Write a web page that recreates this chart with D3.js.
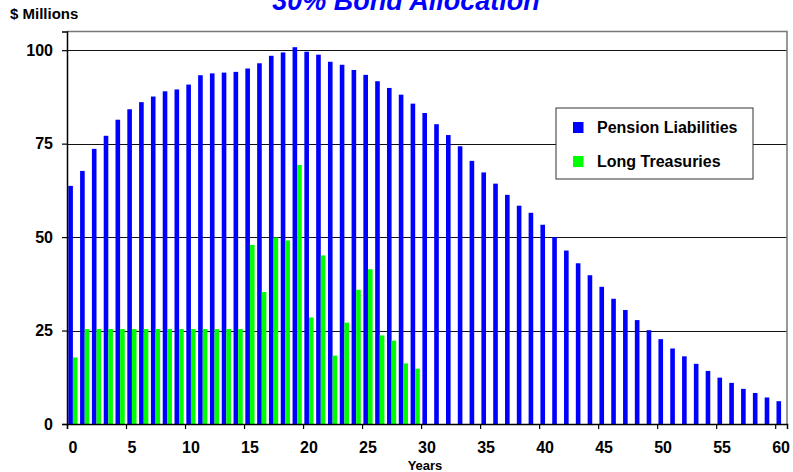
<!DOCTYPE html>
<html>
<head>
<meta charset="utf-8">
<script src="https://cdn.jsdelivr.net/npm/d3@7"></script>
<style>
  body { margin: 0; background: #fff; }
  svg { display: block; font-family: "Liberation Sans", Arial, sans-serif; }
</style>
</head>
<body>
<svg id="chart" width="793" height="472"></svg>
<script>
// years 0..60
const years = d3.range(0, 61);

const liabilities = [
    63.7, 67.7, 73.6, 77.1, 81.4, 84.2, 86.1, 87.6, 89.0, 89.5,
    90.8, 93.3, 93.8, 94.0, 94.2, 95.1, 96.5, 98.5, 99.4, 100.8,
    99.6, 98.8, 96.9, 96.1, 94.7, 93.4, 91.7, 89.9, 88.1, 85.7,
    83.2, 80.2, 77.3, 74.3, 70.4, 67.3, 64.3, 61.3, 58.4, 56.5,
    53.3, 50.0, 46.4, 43.0, 39.8, 36.7, 33.5, 30.5, 27.8, 25.1,
    22.7, 20.2, 18.1, 16.1, 14.2, 12.4, 11.0, 9.4, 8.3, 7.1,
    6.1
];

const treasuries = [
    17.8, 25.4, 25.4, 25.4, 25.4, 25.4, 25.4, 25.4, 25.4, 25.4,
    25.4, 25.4, 25.4, 25.4, 25.4, 47.9, 35.3, 49.9, 49.1, 69.3,
    28.5, 45.1, 18.3, 27.1, 35.9, 41.4, 23.7, 22.3, 16.2, 14.8
];

const seriesNames = ["Pension Liabilities", "Long Treasuries"];
const seriesColors = ["#0000FF", "#00FF00"];
const yTicks = [0, 25, 50, 75, 100];
const xTickLabels = d3.range(0, 61, 5);

const svg = d3.select("#chart");
const plotL = 67, plotR = 787, plotT = 31.5, plotB = 424;

const x = d3.scaleBand().domain(years).range([plotL, plotR]).padding(0);
const xEdge = d3.scaleLinear().domain([0, 61]).range([plotL, plotR]);
const sub = d3.scaleBand().domain(seriesNames).range([0, x.bandwidth()])
    .paddingInner(0).paddingOuter(0.28);
const y = d3.scaleLinear().domain([0, 105]).range([plotB, plotT]);

// gridlines
svg.append("g")
    .selectAll("line")
    .data(yTicks.filter(d => d > 0))
    .enter()
    .append("line")
    .attr("x1", plotL).attr("x2", plotR)
    .attr("y1", d => Math.round(y(d)) + 0.5)
    .attr("y2", d => Math.round(y(d)) + 0.5)
    .attr("stroke", "#111")
    .attr("stroke-width", 1.2);

// plot frame (top and right)
svg.append("path")
    .attr("d", `M${plotL},${plotT}H${plotR}V${plotB}`)
    .attr("fill", "none")
    .attr("stroke", "#777")
    .attr("stroke-width", 1.5);

// bars
const series = [liabilities, treasuries];
series.forEach((vals, si) => {
    svg.append("g")
        .selectAll("rect")
        .data(vals)
        .enter()
        .append("rect")
        .attr("x", (d, i) => x(years[i]) + sub(seriesNames[si]))
        .attr("width", sub.bandwidth())
        .attr("y", d => y(d))
        .attr("height", d => y(0) - y(d))
        .attr("fill", seriesColors[si]);
});

// y axis
const yAxis = svg.append("g")
    .attr("transform", `translate(${plotL},0)`)
    .call(d3.axisLeft(y).tickValues(yTicks).tickSize(5).tickPadding(9));
yAxis.select(".domain").attr("stroke", "#000").attr("stroke-width", 1.5);
yAxis.selectAll(".tick line").attr("stroke", "#000").attr("stroke-width", 1.2);
yAxis.selectAll(".tick text")
    .attr("font-size", "16px")
    .attr("font-weight", "bold")
    .attr("font-family", "Liberation Sans, Arial, sans-serif")
    .attr("fill", "#000");

// x axis: tick marks at category edges
const xAxis = svg.append("g")
    .attr("transform", `translate(0,${plotB})`)
    .call(d3.axisBottom(xEdge).tickValues(xTickLabels).tickSize(5).tickFormat(""));
xAxis.select(".domain").attr("stroke", "#000").attr("stroke-width", 1.5);
xAxis.selectAll(".tick line").attr("stroke", "#000").attr("stroke-width", 1.2);

// x labels at category centres
const xLab = svg.append("g")
    .attr("transform", `translate(0,${plotB})`)
    .call(d3.axisBottom(x).tickValues(xTickLabels).tickSize(0).tickPadding(18));
xLab.select(".domain").remove();
xLab.selectAll(".tick text")
    .attr("font-size", "16px")
    .attr("font-weight", "bold")
    .attr("font-family", "Liberation Sans, Arial, sans-serif")
    .attr("fill", "#000");

// titles
svg.append("text")
    .attr("x", 406)
    .attr("y", 10)
    .attr("text-anchor", "middle")
    .attr("font-size", "27px")
    .attr("font-weight", "bold")
    .attr("font-style", "italic")
    .attr("fill", "#0000FF")
    .text("30% Bond Allocation");

svg.append("text")
    .attr("x", 10)
    .attr("y", 19)
    .attr("font-size", "15px")
    .attr("font-weight", "bold")
    .text("$ Millions");

svg.append("text")
    .attr("x", 425)
    .attr("y", 470)
    .attr("text-anchor", "middle")
    .attr("font-size", "13px")
    .attr("font-weight", "bold")
    .text("Years");

// legend
const legend = svg.append("g").attr("transform", "translate(556,108)");
legend.append("rect")
    .attr("width", 197)
    .attr("height", 71)
    .attr("fill", "#fff")
    .attr("stroke", "#333")
    .attr("stroke-width", 1);

seriesNames.forEach((name, i) => {
    legend.append("rect")
        .attr("x", 17)
        .attr("y", 14 + i * 34)
        .attr("width", 10.5)
        .attr("height", 11)
        .attr("fill", seriesColors[i]);
    legend.append("text")
        .attr("x", 41)
        .attr("y", 25 + i * 34)
        .attr("font-size", "16px")
        .attr("font-weight", "bold")
        .text(name);
});
</script>
</body>
</html>
